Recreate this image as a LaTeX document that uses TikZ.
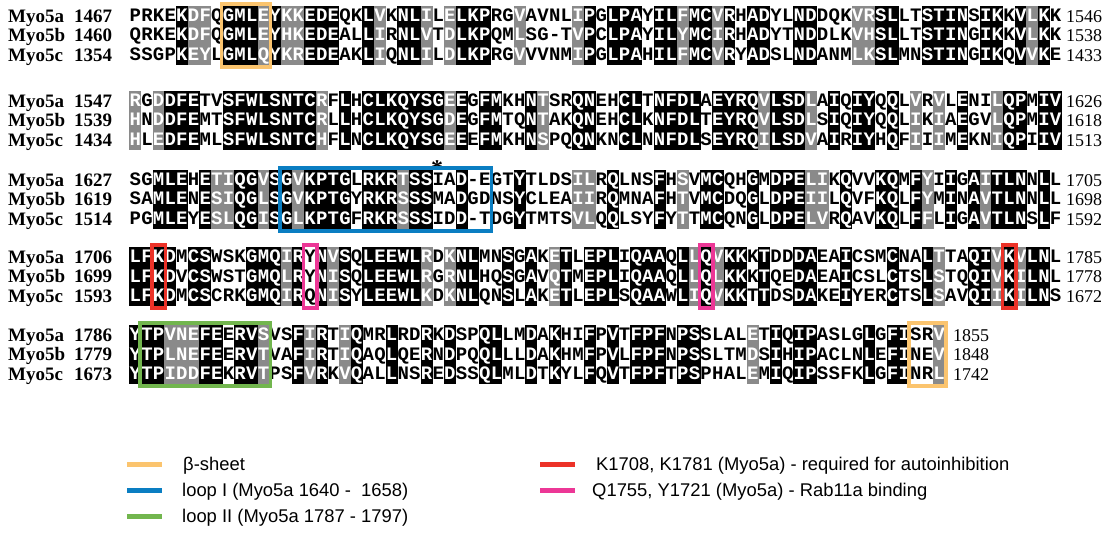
\documentclass[tikz,border=0pt]{standalone}
\usepackage{fontspec}
\setmainfont{Liberation Serif}
\newfontfamily\seqfont{Liberation Mono}
\newfontfamily\legfont{Liberation Sans}

\definecolor{shadegray}{RGB}{138,138,138}
\definecolor{lorange}{RGB}{251,196,110}
\definecolor{lblue}{RGB}{10,126,194}
\definecolor{lgreen}{RGB}{114,182,78}
\definecolor{lred}{RGB}{236,50,40}
\definecolor{lpink}{RGB}{236,55,150}

\newcommand\XO{129.5}
\newcommand\CW{11.65}

\tikzset{
 res/.style={anchor=base, inner sep=0pt, font=\seqfont\bfseries\fontsize{19}{19}\selectfont},
 lab/.style={anchor=base west, inner sep=0pt, font=\bfseries\fontsize{19}{19}\selectfont},
 endnum/.style={anchor=base west, inner sep=0pt, font=\fontsize{18}{18}\selectfont},
 legline/.style={line width=5pt},
 legtext/.style={anchor=base west, inner sep=0pt, font=\legfont\fontsize{18.4}{18.4}\selectfont},
 hbox/.style={line width=3.5pt},
}

\newcommand\mycell[4]{%
  \pgfmathsetmacro\cx{\XO+(#1-1)*\CW}%
  \if#3B\fill[black] (\cx-0.15,#2-9.9) rectangle ++(\CW+0.3,19.8);\def\tc{white}%
  \else\if#3G\fill[shadegray] (\cx-0.15,#2-9.9) rectangle ++(\CW+0.3,19.8);\def\tc{white}%
  \else\def\tc{black}\fi\fi
  \node[res,text=\tc] at (\cx+\CW/2,#2+5.5) {#4};%
}

\newcommand\rowlab[6]{%
  \node[lab] (#1n) at (8,#2+6.4) {#3};
  \node[lab] (#1s) at (74,#2+6.4) {#4};
  \node[endnum] (#1e) at (#6,#2+6.2) {#5};
}

\newcommand\hlbox[4]{%
  \draw[hbox,#1] ({\XO+(#3-1)*\CW-1},#2-12) rectangle ({\XO+#4*\CW+1},#2+51);
}

\ExplSyntaxOn
\tl_new:N \l__my_class_tl
\clist_new:N \g__my_groups_clist
\clist_gset:Nn \g__my_groups_clist { ILV , FYW , DE , EQ , KRH , ST , ND }
\cs_new_protected:Npn \__my_group:nnn #1#2#3
  {
    \clist_map_inline:Nn \g__my_groups_clist
      {
        \tl_if_in:nnT {##1} {#1}
          {
            \tl_if_in:nnT {##1} {#2}
              {
                \tl_if_in:nnT {##1} {#3}
                  { \tl_set:Nn \l__my_class_tl { G } \clist_map_break: }
              }
          }
      }
  }
\cs_new_protected:Npn \__my_class:nnn #1#2#3
  {
    \tl_set:Nn \l__my_class_tl { W }
    \str_if_eq:nnTF {#1} {#2}
      {
        \str_if_eq:nnTF {#2} {#3}
          { \str_if_eq:nnF {#1} {-} { \tl_set:Nn \l__my_class_tl { B } } }
          { \__my_group:nnn {#1} {#2} {#3} }
      }
      { \__my_group:nnn {#1} {#2} {#3} }
  }
\cs_generate_variant:Nn \__my_class:nnn { eee }
\cs_new_protected:Npn \my_block:nnnn #1#2#3#4
  {
    \int_step_inline:nn { \tl_count:n {#2} }
      {
        \__my_class:eee { \tl_item:nn {#2} {##1} } { \tl_item:nn {#3} {##1} } { \tl_item:nn {#4} {##1} }
        \use:e { \exp_not:N \mycell {##1} {#1} { \l__my_class_tl } { \tl_item:nn {#2} {##1} } }
        \use:e { \exp_not:N \mycell {##1} {#1+19.5} { \l__my_class_tl } { \tl_item:nn {#3} {##1} } }
        \use:e { \exp_not:N \mycell {##1} {#1+39} { \l__my_class_tl } { \tl_item:nn {#4} {##1} } }
      }
  }
\cs_set_eq:NN \seqblock \my_block:nnnn
\ExplSyntaxOff

\begin{document}
\begin{tikzpicture}[x=1pt,y=-1pt]
\fill[white] (0,0) rectangle (1113,537);
\useasboundingbox (0,0) rectangle (1113,537);

% ---- block 1
\seqblock{16}{PRKEKDFQGMLEYKKEDEQKLVKNLILELKPRGVAVNLIPGLPAYILFMCVRHADYLNDDQKVRSLLTSTINSIKKVLKK}{QRKEKDFQGMLEYHKEDEALLIRNLVTDLKPQMLSG-TVPCLPAYILYMCIRHADYTNDDLKVHSLLTSTINGIKKVLKK}{SSGPKEYLGMLQYKREDEAKLIQNLILDLKPRGVVVNMIPGLPAHILFMCVRYADSLNDANMLKSLMNSTINGIKQVVKE}
\rowlab{a1}{16}{Myo5a}{1467}{1546}{1066}
\rowlab{b1}{35.5}{Myo5b}{1460}{1538}{1066}
\rowlab{c1}{55}{Myo5c}{1354}{1433}{1066}

% ---- block 2
\seqblock{101}{RGDDFETVSFWLSNTCRFLHCLKQYSGEEGFMKHNTSRQNEHCLTNFDLAEYRQVLSDLAIQIYQQLVRVLENILQPMIV}{HNDDFEMTSFWLSNTCRLLHCLKQYSGDEGFMTQNTAKQNEHCLKNFDLTEYRQVLSDLSIQIYQQLIKIAEGVLQPMIV}{HLEDFEMLSFWLSNTCHFLNCLKQYSGEEEFMKHNSPQQNKNCLNNFDLSEYRQILSDVAIRIYHQFIIIMEKNIQPIIV}
\rowlab{a2}{101}{Myo5a}{1547}{1626}{1066}
\rowlab{b2}{120.5}{Myo5b}{1539}{1618}{1066}
\rowlab{c2}{140}{Myo5c}{1434}{1513}{1066}

% ---- block 3
\seqblock{180}{SGMLEHETIQGVSGVKPTGLRKRTSSIAD-EGTYTLDSILRQLNSFHSVMCQHGMDPELIKQVVKQMFYIIGAITLNNLL}{SAMLENESIQGLSGVKPTGYRKRSSSMADGDNSYCLEAIIRQMNAFHTVMCDQGLDPEIILQVFKQLFYMINAVTLNNLL}{PGMLEYESLQGISGLKPTGFRKRSSSIDD-TDGYTMTSVLQQLSYFYTTMCQNGLDPELVRQAVKQLFFLIGAVTLNSLF}
\rowlab{a3}{180}{Myo5a}{1627}{1705}{1066}
\rowlab{b3}{199.5}{Myo5b}{1619}{1698}{1066}
\rowlab{c3}{219}{Myo5c}{1514}{1592}{1066}
\node[anchor=base, inner sep=0pt, font=\bfseries\fontsize{24}{24}\selectfont] (star) at (437,177) {*};

% ---- block 4
\seqblock{257}{LFKDMCSWSKGMQIRYNVSQLEEWLRDKNLMNSGAKETLEPLIQAAQLLQVKKKTDDDAEAICSMCNALTTAQIVKVLNL}{LFKDVCSWSTGMQLRYNISQLEEWLRGRNLHQSGAVQTMEPLIQAAQLLQLKKKTQEDAEAICSLCTSLSTQQIVKILNL}{LFKDMCSCRKGMQIRQNISYLEEWLKDKNLQNSLAKETLEPLSQAAWLIQVKKTTDSDAKEIYERCTSLSAVQIIKILNS}
\rowlab{a4}{257}{Myo5a}{1706}{1785}{1066}
\rowlab{b4}{276.5}{Myo5b}{1699}{1778}{1066}
\rowlab{c4}{296}{Myo5c}{1593}{1672}{1066}

% ---- block 5
\seqblock{335}{YTPVNEFEERVSVSFIRTIQMRLRDRKDSPQLLMDAKHIFPVTFPFNPSSLALETIQIPASLGLGFISRV}{YTPLNEFEERVTVAFIRTIQAQLQERNDPQQLLLDAKHMFPVLFPFNPSSLTMDSIHIPACLNLEFINEV}{YTPIDDFEKRVTPSFVRKVQALLNSREDSSQLMLDTKYLFQVTFPFTPSPHALEMIQIPSSFKLGFINRL}
\rowlab{a5}{335}{Myo5a}{1786}{1855}{953}
\rowlab{b5}{354.5}{Myo5b}{1779}{1848}{953}
\rowlab{c5}{374}{Myo5c}{1673}{1742}{953}

% ---- highlight boxes
\hlbox{lorange}{16}{9}{12}
\hlbox{lblue}{180}{14}{31}
\hlbox{lred}{257}{3}{3}
\hlbox{lred}{257}{76}{76}
\hlbox{lpink}{257}{16}{16}
\hlbox{lpink}{257}{50}{50}
\hlbox{lgreen}{335}{2}{12}
\hlbox{lorange}{335}{68}{70}

% ---- legend
\draw[legline,lorange] (127,464) coordinate (g1a) -- (162,464) coordinate (g1b);
\node[legtext] (t1) at (183,470.5) {β-sheet};
\draw[legline,lblue] (127,490) coordinate (g2a) -- (162,490) coordinate (g2b);
\node[legtext] (t2) at (182,496.5) {loop I (Myo5a 1640 - \ 1658)};
\draw[legline,lgreen] (127,516) coordinate (g3a) -- (162,516) coordinate (g3b);
\node[legtext] (t3) at (182,522.5) {loop II (Myo5a 1787 - 1797)};
\draw[legline,lred] (540,464) coordinate (g4a) -- (575,464) coordinate (g4b);
\node[legtext] (t4) at (596,470.5) {K1708, K1781 (Myo5a) - required for autoinhibition};
\draw[legline,lpink] (540,490) coordinate (g5a) -- (575,490) coordinate (g5b);
\node[legtext] (t5) at (592,496.5) {Q1755, Y1721 (Myo5a) - Rab11a binding};
\end{tikzpicture}
\end{document}
